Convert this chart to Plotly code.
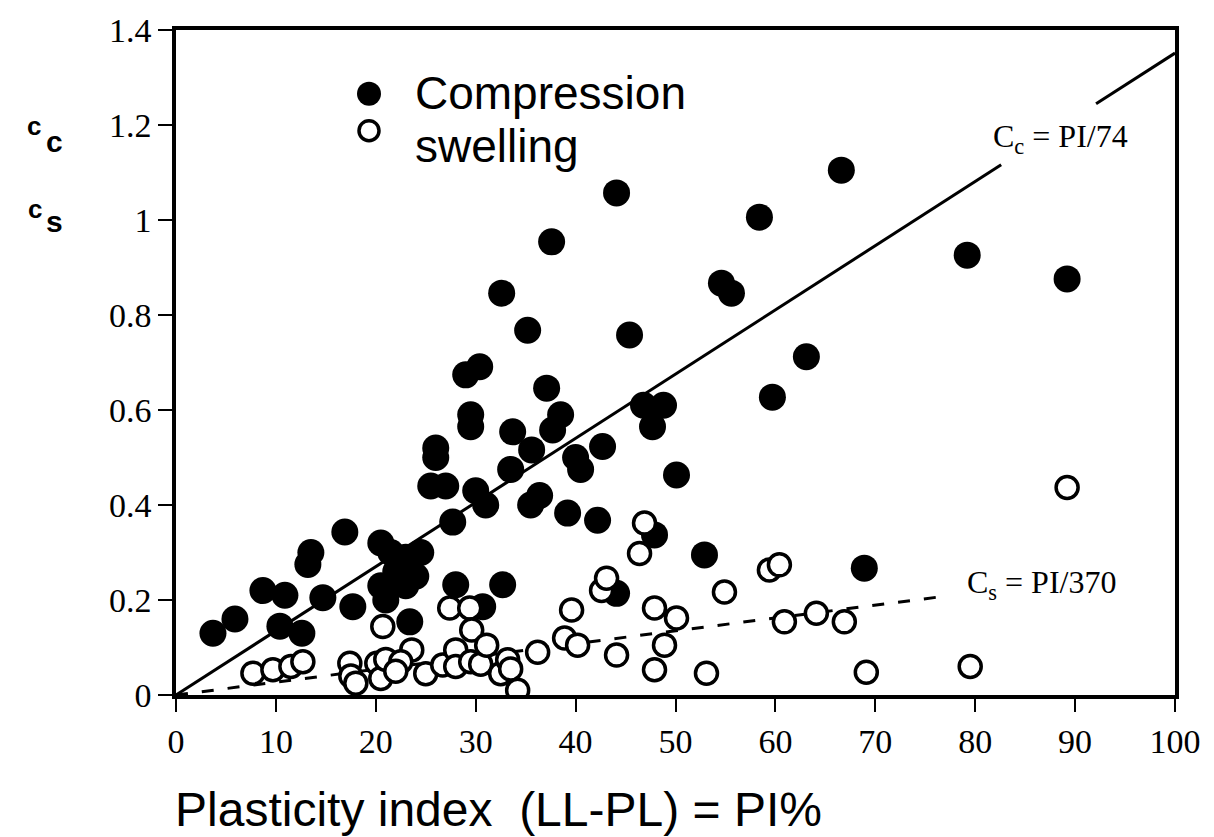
import plotly.graph_objects as go

# Compression index (filled) : plasticity index PI (%) and Cc
cc_pi = [3.7, 5.9, 8.7, 10.4, 10.9, 12.6, 13.5, 13.2, 14.7, 16.9, 17.7,
         20.5, 21.5, 23.0, 24.5, 22.0, 24.0, 23.0, 21.0, 20.5, 23.4,
         26.0, 26.0, 25.5, 27.0, 27.7, 28.0, 29.0, 30.4, 29.5, 29.5,
         30.0, 31.0, 30.7, 32.6, 32.7, 33.7, 33.5, 35.2, 35.6, 36.4, 35.5,
         37.6, 37.1, 38.5, 37.7, 40.0, 40.5, 39.2, 42.2, 42.7, 44.1, 45.4,
         46.8, 48.8, 47.7, 47.9, 50.1, 44.1, 52.9, 54.6, 55.6, 58.4, 59.7,
         63.1, 66.6, 68.9, 79.2, 89.2]
cc_val = [0.13, 0.16, 0.22, 0.145, 0.21, 0.13, 0.30, 0.275, 0.205, 0.343, 0.186,
          0.32, 0.30, 0.29, 0.30, 0.26, 0.25, 0.23, 0.20, 0.23, 0.154,
          0.52, 0.50, 0.44, 0.44, 0.364, 0.232, 0.674, 0.691, 0.59, 0.565,
          0.43, 0.40, 0.186, 0.846, 0.232, 0.554, 0.475, 0.768, 0.516, 0.42, 0.40,
          0.954, 0.646, 0.59, 0.558, 0.50, 0.475, 0.383, 0.368, 0.523, 1.057, 0.758,
          0.61, 0.61, 0.565, 0.337, 0.463, 0.214, 0.295, 0.867, 0.846, 1.006, 0.627,
          0.712, 1.105, 0.267, 0.926, 0.876]

# Swelling index (open)
cs_pi = [7.7, 9.7, 11.5, 12.7, 17.4, 17.5, 18.0, 20.1, 20.7, 20.5, 21.0,
         23.6, 22.5, 22.0, 25.0, 26.7, 27.4, 28.0, 28.0, 29.4, 29.6, 29.5,
         30.5, 31.1, 32.5, 33.2, 33.5, 34.2, 36.2, 38.9, 39.6, 40.2, 42.6,
         43.1, 44.1, 46.4, 46.9, 47.9, 47.9, 48.9, 50.1, 53.1, 54.9, 59.4,
         60.4, 60.9, 64.1, 66.9, 69.1, 79.5, 89.2]
cs_val = [0.046, 0.053, 0.06, 0.07, 0.067, 0.04, 0.025, 0.067, 0.144, 0.035, 0.075,
          0.095, 0.07, 0.05, 0.045, 0.063, 0.183, 0.095, 0.06, 0.183, 0.137, 0.07,
          0.065, 0.105, 0.045, 0.074, 0.055, 0.01, 0.09, 0.12, 0.179, 0.105, 0.22,
          0.246, 0.084, 0.298, 0.362, 0.183, 0.053, 0.105, 0.162, 0.046, 0.217, 0.263,
          0.274, 0.154, 0.172, 0.154, 0.048, 0.06, 0.437]

# Correlation lines (PI breakpoints, gap left for the labels)
cc_line_pi = [0, 82.6, None, 92.1, 100]
cc_div = 74
cs_line_pi = [0, 77]
cs_div = 370

x_ticks = [0, 10, 20, 30, 40, 50, 60, 70, 80, 90, 100]
x_ticktext = ["0", "10", "20", "30", "40", "50", "60", "70", "80", "90", "100"]
y_ticks = [0, 0.2, 0.4, 0.6, 0.8, 1.0, 1.2, 1.4]
y_ticktext = ["0", "0.2", "0.4", "0.6", "0.8", "1", "1.2", "1.4"]

W, H = 1214, 837
L, R, T, B = 176, 39, 28, 142
pw, ph = W - L - R, H - T - B


def px(xp):
    return (xp - L) / pw


def py(yp):
    return (H - B - yp) / ph


serif = "Liberation Serif, Times New Roman, serif"
sans = "Liberation Sans, Arial, sans-serif"

fig = go.Figure()
fig.add_trace(go.Scatter(
    x=cc_line_pi, y=[None if v is None else v / cc_div for v in cc_line_pi],
    mode="lines", line=dict(color="black", width=3), hoverinfo="skip",
    showlegend=False))
fig.add_trace(go.Scatter(
    x=cs_line_pi, y=[v / cs_div for v in cs_line_pi],
    mode="lines", line=dict(color="black", width=3, dash="12px,14px"),
    hoverinfo="skip", showlegend=False))
fig.add_trace(go.Scatter(
    x=cc_pi, y=cc_val, mode="markers", name="Compression",
    marker=dict(size=27, color="black", line=dict(width=0)), showlegend=False))
fig.add_trace(go.Scatter(
    x=cs_pi, y=cs_val, mode="markers", name="swelling",
    marker=dict(size=22, color="white", line=dict(width=3.5, color="black")),
    showlegend=False))

fig.update_layout(
    width=W, height=H,
    margin=dict(l=L, r=R, t=T, b=B),
    paper_bgcolor="white", plot_bgcolor="white",
    font=dict(family=serif, color="black"),
    xaxis=dict(range=[0, 100], tickvals=x_ticks, ticktext=x_ticktext,
               showgrid=False, zeroline=False, showline=True, linewidth=3.5,
               linecolor="black", mirror=True, ticks="outside", ticklen=13,
               tickwidth=2, tickcolor="black",
               tickfont=dict(family=serif, size=34, color="black")),
    yaxis=dict(range=[0, 1.4], tickvals=y_ticks, ticktext=y_ticktext,
               showgrid=False, zeroline=False, showline=True, linewidth=3.5,
               linecolor="black", mirror=True, ticks="outside", ticklen=14,
               tickwidth=2, tickcolor="black",
               tickfont=dict(family=serif, size=34, color="black")),
)

annots = [
    dict(x=88.5, y=1.172, xref="x", yref="y", text="C<sub>c</sub> = PI/74",
         font=dict(family=serif, size=32), showarrow=False),
    dict(x=86.6, y=0.233, xref="x", yref="y", text="C<sub>s</sub> = PI/370",
         font=dict(family=serif, size=32), showarrow=False),
    dict(x=px(413), y=py(91), xref="paper", yref="paper", text="Compression",
         xanchor="left", yanchor="middle", font=dict(family=sans, size=46),
         showarrow=False),
    dict(x=px(413), y=py(144), xref="paper", yref="paper", text="swelling",
         xanchor="left", yanchor="middle", font=dict(family=sans, size=46),
         showarrow=False),
    dict(x=px(173), y=py(810), xref="paper", yref="paper",
         text="Plasticity index  (LL-PL) = PI%", xanchor="left",
         yanchor="middle", font=dict(family=sans, size=48), showarrow=False),
    # c_c and c_s axis symbols
    dict(x=px(34), y=py(124), xref="paper", yref="paper", text="<b>c</b>",
         xanchor="center", yanchor="middle", font=dict(family=sans, size=26),
         showarrow=False),
    dict(x=px(54), y=py(140), xref="paper", yref="paper", text="<b>c</b>",
         xanchor="center", yanchor="middle", font=dict(family=sans, size=30),
         showarrow=False),
    dict(x=px(35), y=py(208), xref="paper", yref="paper", text="<b>c</b>",
         xanchor="center", yanchor="middle", font=dict(family=sans, size=26),
         showarrow=False),
    dict(x=px(54), y=py(220), xref="paper", yref="paper", text="<b>s</b>",
         xanchor="center", yanchor="middle", font=dict(family=sans, size=30),
         showarrow=False),
]
fig.update_layout(annotations=annots)

shapes = [
    dict(type="circle", xref="paper", yref="paper", xsizemode="pixel",
         ysizemode="pixel", xanchor=px(369), yanchor=py(92),
         x0=-12, x1=12, y0=-12, y1=12, fillcolor="black",
         line=dict(color="black", width=0)),
    dict(type="circle", xref="paper", yref="paper", xsizemode="pixel",
         ysizemode="pixel", xanchor=px(369), yanchor=py(129),
         x0=-10, x1=10, y0=-10, y1=10, fillcolor="white",
         line=dict(color="black", width=3.5)),
]
fig.update_layout(shapes=shapes)

fig.write_html("out.html")
